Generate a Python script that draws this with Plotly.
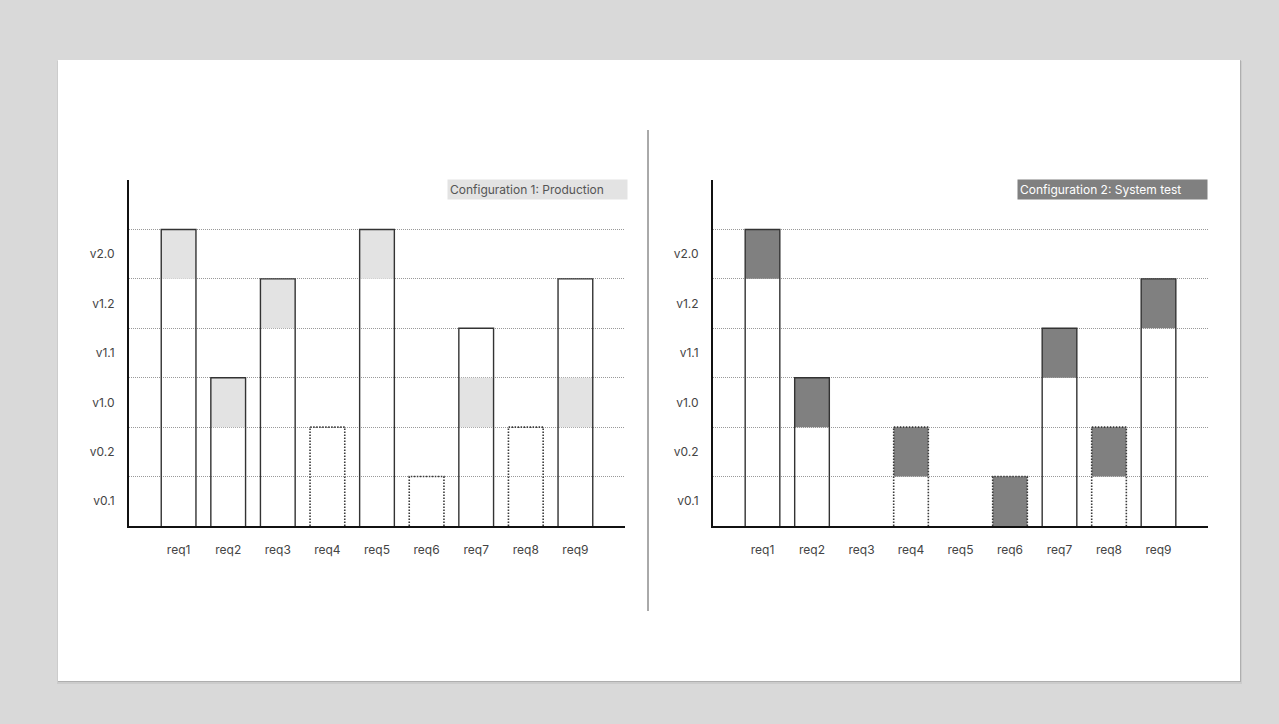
import numpy as np
import plotly.graph_objects as go

# categories and tick labels
reqs = ['req1', 'req2', 'req3', 'req4', 'req5', 'req6', 'req7', 'req8', 'req9']
versions = ['v0.1', 'v0.2', 'v1.0', 'v1.1', 'v1.2', 'v2.0']

# Configuration 1: Production (bar top, highlighted band, dotted outline)
prod_top = [6, 3, 5, 2, 6, 1, 4, 2, 5]
prod_hl_from = [5, 2, 4, None, 5, None, 2, None, 2]
prod_hl_to = [6, 3, 5, None, 6, None, 3, None, 3]
prod_dotted = [False, False, False, True, False, True, False, True, False]

# Configuration 2: System test
test_top = [6, 3, 0, 2, 0, 1, 4, 2, 5]
test_hl_from = [5, 2, None, 1, None, 0, 3, 1, 4]
test_hl_to = [6, 3, None, 2, None, 1, 4, 2, 5]
test_dotted = [False, False, False, True, False, True, False, True, False]

W, H = 1279, 724
BAR_W = 0.7
FONT = 'Inter'


def px_x(p):
    return p / W


def px_y(p):
    return 1 - p / H


def add_config(fig, top, hl_from, hl_to, dotted, fill, xa, ya):
    xs = np.arange(1, len(reqs) + 1)
    base = [b if b is not None else 0 for b in hl_from]
    hgt = [(t - b) if b is not None else 0 for b, t in zip(hl_from, hl_to)]
    fig.add_trace(go.Bar(
        x=xs, y=hgt, base=base, width=BAR_W,
        marker=dict(color=fill, line=dict(width=0)),
        xaxis=xa, yaxis=ya, hoverinfo='skip', showlegend=False,
    ))
    # outlines, built from the bar tops
    for want_dot in (False, True):
        ox, oy = [], []
        for x, t, d in zip(xs, top, dotted):
            if d != want_dot or t == 0:
                continue
            l, r = x - BAR_W / 2, x + BAR_W / 2
            ox += [l, l, r, r, None]
            oy += [0, t, t, 0, None]
        fig.add_trace(go.Scatter(
            x=ox, y=oy, mode='lines',
            line=dict(color='#3a3a3a' if want_dot else '#333',
                      width=1.6 if want_dot else 1.4,
                      dash='1.5px,1.5px' if want_dot else 'solid'),
            xaxis=xa, yaxis=ya, hoverinfo='skip', showlegend=False,
        ))


fig = go.Figure()
add_config(fig, prod_top, prod_hl_from, prod_hl_to, prod_dotted, '#e3e3e3', 'x', 'y')
add_config(fig, test_top, test_hl_from, test_hl_to, test_dotted, '#808080', 'x2', 'y2')

xax = dict(
    range=[0, 10], tickvals=list(range(1, 10)), ticktext=reqs,
    showgrid=False, zeroline=False, showline=True, linecolor='#111', linewidth=2,
    ticks='outside', ticklen=12, tickcolor='rgba(0,0,0,0)',
    tickfont=dict(family=FONT, size=12, color='#444'), fixedrange=True,
)
yax = dict(
    range=[0, 7], tickvals=[i + 0.5 for i in range(len(versions))], ticktext=versions,
    showgrid=False, zeroline=False, showline=True, linecolor='#111', linewidth=2,
    ticks='outside', ticklen=10, tickcolor='rgba(0,0,0,0)',
    tickfont=dict(family=FONT, size=12, color='#444'),
    minor=dict(tickvals=list(range(1, 7)), showgrid=True, gridcolor='#999',
               griddash='1px,1px', gridwidth=1, ticks=''),
    fixedrange=True,
)

fig.update_layout(
    width=W, height=H,
    margin=dict(l=0, r=0, t=0, b=0),
    paper_bgcolor='#d9d9d9',
    plot_bgcolor='rgba(0,0,0,0)',
    barmode='overlay',
    xaxis=dict(xax, domain=[px_x(129), px_x(625)], anchor='y'),
    yaxis=dict(yax, domain=[px_y(526), px_y(180)], anchor='x'),
    xaxis2=dict(xax, domain=[px_x(713), px_x(1208)], anchor='y2'),
    yaxis2=dict(yax, domain=[px_y(526), px_y(180)], anchor='x2'),
    shapes=[
        # soft card shadow + card
        dict(type='rect', xref='paper', yref='paper', layer='below',
             x0=px_x(57), x1=px_x(1242), y0=px_y(684), y1=px_y(61),
             fillcolor='rgba(0,0,0,0.06)', line=dict(width=0)),
        dict(type='rect', xref='paper', yref='paper', layer='below',
             x0=px_x(58), x1=px_x(1241), y0=px_y(682), y1=px_y(60),
             fillcolor='rgba(0,0,0,0.14)', line=dict(width=0)),
        dict(type='rect', xref='paper', yref='paper', layer='below',
             x0=px_x(58), x1=px_x(1240), y0=px_y(681), y1=px_y(60),
             fillcolor='white', line=dict(width=0)),
        # divider
        dict(type='line', xref='paper', yref='paper',
             x0=px_x(648), x1=px_x(648), y0=px_y(611), y1=px_y(130),
             line=dict(color='#555', width=1)),
    ],
    annotations=[
        dict(text='Configuration 1: Production', xref='paper', yref='paper',
             x=px_x(628), y=px_y(189.5), xanchor='right', yanchor='middle',
             showarrow=False, bgcolor='#e3e3e3', borderpad=2, width=175, height=15,
             align='left', font=dict(family=FONT, size=12, color='#555')),
        dict(text='Configuration 2: System test', xref='paper', yref='paper',
             x=px_x(1208), y=px_y(189.5), xanchor='right', yanchor='middle',
             showarrow=False, bgcolor='#808080', borderpad=2, width=185, height=15,
             align='left', font=dict(family=FONT, size=12, color='white')),
    ],
)

fig.write_html('out.html', config={'displayModeBar': False},
               post_script="document.body.style.margin='0';")
